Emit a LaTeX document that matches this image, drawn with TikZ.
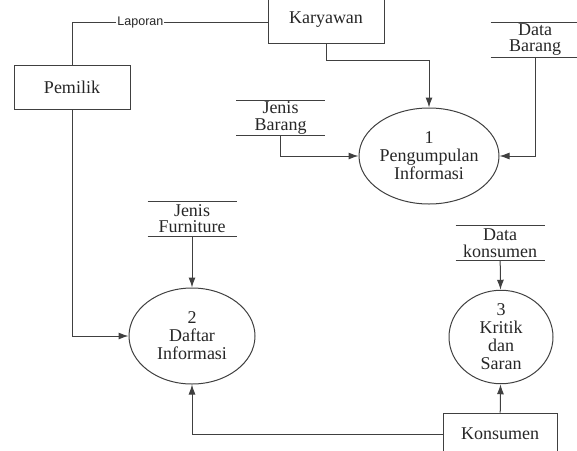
\documentclass[tikz,border=0pt]{standalone}
\usepackage{fontspec}
\setmainfont{Liberation Serif}
\newfontfamily\labelfont{Liberation Sans}
\usetikzlibrary{shapes.geometric,arrows.meta}
\begin{document}
\begin{tikzpicture}
  [x=1pt,y=-1pt,line width=1pt,draw=black!75,text=black!85,
   every node/.style={font=\fontsize{18}{18}\selectfont,align=center,inner sep=0pt}]
  \tikzstyle{entity} = [draw,rectangle]
  \tikzstyle{proc} = [draw,ellipse,minimum width=126pt,minimum height=96pt]
  \tikzstyle{store} = [minimum width=88pt,minimum height=34pt,font=\fontsize{18}{16.5}\selectfont]
  \tikzstyle{flow} = [-{Latex[length=10pt,width=7pt]}]
  \tikzstyle{lbl} = [fill=white,inner sep=1pt,font=\labelfont\fontsize{12.5}{13}\selectfont]
  \useasboundingbox (0,0) rectangle (577,450);
  \clip (0,0) rectangle (577,450);

  \node[entity,minimum width=116pt,minimum height=47pt] (kar) at (326,19.5) {Karyawan};
  \node[entity,minimum width=116pt,minimum height=44pt] (pem) at (72,87) {Pemilik};
  \node[entity,minimum width=114pt,minimum height=42pt] (kon) at (500,434) {Konsumen};

  \node[proc] (p1) at (429,156) {1\\Pengumpulan\\Informasi};
  \node[proc] (p2) at (192,336) {2\\Daftar\\Informasi};
  \node[proc,minimum width=104pt,minimum height=80pt] (p3) at (501,337) {3\\Kritik\\dan\\Saran};

  \node[store] (jb) at (280.5,118) {Jenis\\Barang};
  \node[store] (db) at (535,39.5) {Data\\Barang};
  \node[store] (jf) at (192,218.5) {Jenis\\Furniture};
  \node[store] (dk) at (500,243) {Data\\konsumen};

  % garis data store
  \foreach \s in {jb,db,jf,dk}
    \draw (\s.north west) -- (\s.north east) (\s.south west) -- (\s.south east);

  \draw (kar.west |- 0,22) -- node[lbl,pos=.65] {Laporan} (72,22) -- (pem.north);
  \draw[flow] (pem.south) |- (p2.west);
  \draw[flow] (kar.south) -- ++(0,17) -| (p1.north);
  \draw[flow] (jb.south) |- (p1.west);
  \draw[flow] (db.south) |- (p1.east);
  \draw[flow] (kon.west) -| (p2.south);

  \foreach \source /\dest in {jf/p2,dk/p3,kon/p3}
    \draw[flow] (\source) -- (\dest);

\end{tikzpicture}
\end{document}
